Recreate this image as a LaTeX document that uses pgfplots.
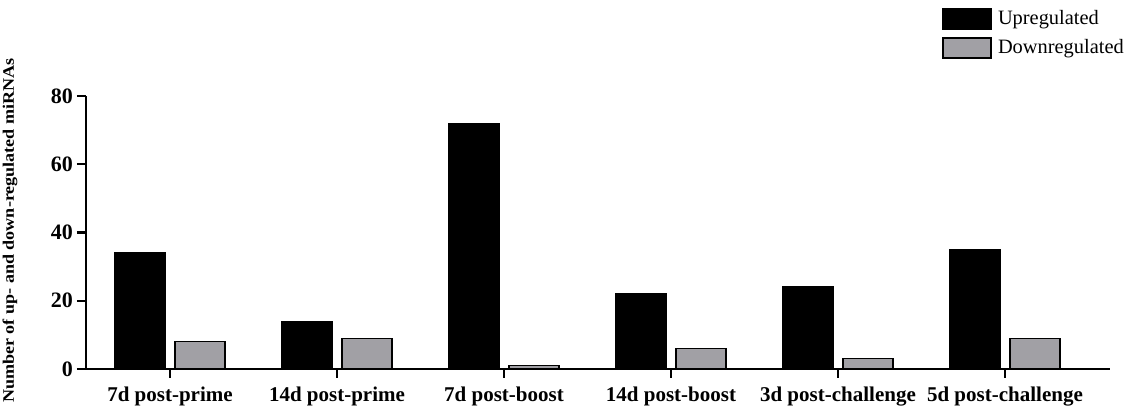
\documentclass[border=0pt]{standalone}
\usepackage{fontspec}
\setmainfont{Liberation Serif}
\usepackage{pgfplots}
\pgfplotsset{compat=1.18}
\usepackage{graphicx}

\definecolor{downgray}{RGB}{161,160,165}

% miRNA counts per time point (x = group index)
\pgfplotstableread{
x up down
0 34 8
1 14 9
2 72 1
3 22 6
4 24 3
5 35 9
}\mirnadata

\begin{document}
\begin{tikzpicture}
\path[use as bounding box] (0pt,0pt) rectangle (565pt,205pt);
\begin{axis}[
  at={(43pt,20.5pt)}, anchor=south west,
  scale only axis,
  width=512pt, height=136.5pt,
  xmin=-0.503, xmax=5.629,
  ymin=0, ymax=80,
  axis x line=bottom, axis y line=left,
  axis line style={-, line width=1.3pt},
  ytick={0,20,40,60,80},
  xtick=data,
  xticklabels={7d post-prime,14d post-prime,7d post-boost,14d post-boost,3d post-challenge,5d post-challenge},
  tick style={line width=1.1pt, black},
  tickwidth=4.5pt,
  tick align=outside,
  xticklabel style={font=\fontsize{10.5}{12}\selectfont\bfseries, yshift=-1pt},
  yticklabel style={font=\fontsize{11}{12}\selectfont\bfseries, xshift=1.5pt},
  /pgf/number format/assume math mode=true,
  every axis y label/.style={at={(axis description cs:0,0.5)}, xshift=-38pt, yshift=1pt, rotate=90, anchor=center},
  ylabel={\scalebox{1.13}[1]{\fontsize{8}{9}\selectfont\bfseries Number of up- and down-regulated miRNAs}},
  ybar=5pt, bar width=25pt,
  legend style={at={(rel axis cs:0,0)}, shift={(428pt,181.5pt)}, anchor=north west, draw=none, fill=none,
    font=\fontsize{10.2}{12}\selectfont, row sep=2pt, inner sep=0pt,
    /tikz/every odd column/.append style={column sep=1pt}},
  legend cell align=left,
  legend image code/.code={\draw[#1, line width=0.8pt] (0pt,-5pt) rectangle (24pt,5pt);},
  clip=false,
]
\addplot[fill=black, draw=black, line width=0.7pt] table[x=x, y=up] {\mirnadata};
\addplot[fill=downgray, draw=black, line width=0.7pt] table[x=x, y=down] {\mirnadata};
\legend{Upregulated, Downregulated}
\end{axis}
\end{tikzpicture}
\end{document}
